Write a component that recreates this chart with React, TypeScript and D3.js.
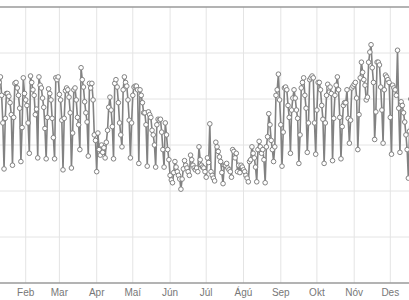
import React from "react";
import * as d3 from "d3";

// Daily values (one per day, starting 1 January), grouped by week
const week00 = [185, 215, 218, 210, 204, 175, 130];
const week01 = [180, 212, 218, 224, 204, 174, 124];
const week02 = [179, 206, 206, 203, 196, 183, 128];
const week03 = [180, 217, 218, 212, 204, 190, 132];
const week04 = [169, 223, 206, 199, 193, 174, 141];
const week05 = [225, 218, 210, 204, 183, 189, 136];
const week06 = [224, 215, 212, 201, 191, 168, 135];
const week07 = [180, 211, 206, 199, 179, 158, 135];
const week08 = [223, 221, 224, 205, 199, 177, 123];
const week09 = [179, 209, 212, 210, 202, 185, 125];
const week10 = [163, 210, 212, 199, 180, 172, 145];
const week11 = [234, 221, 213, 197, 185, 175, 138];
const week12 = [217, 212, 217, 199, 161, 155, 121];
const week13 = [163, 145, 139, 150, 142, 147, 136];
const week14 = [153, 166, 191, 202, 188, 170, 135];
const week15 = [217, 221, 213, 196, 174, 161, 148];
const week16 = [210, 224, 218, 214, 199, 177, 136];
const week17 = [174, 204, 213, 214, 214, 210, 130];
const week18 = [210, 204, 196, 185, 185, 172, 127];
const week19 = [186, 183, 180, 166, 161, 150, 126];
const week20 = [172, 178, 177, 178, 164, 145, 126];
const week21 = [174, 161, 145, 134, 117, 112, 109];
const week22 = [120, 132, 126, 121, 117, 113, 102];
const week23 = [113, 124, 133, 128, 125, 121, 117];
const week24 = [139, 134, 128, 125, 123, 125, 121];
const week25 = [148, 134, 128, 126, 125, 121, 115];
const week26 = [136, 131, 173, 121, 117, 114, 111];
const week27 = [153, 148, 143, 137, 132, 120, 108];
const week28 = [128, 128, 130, 125, 123, 121, 115];
const week29 = [145, 143, 136, 141, 121, 128, 120];
const week30 = [128, 126, 123, 121, 117, 114, 110];
const week31 = [132, 134, 148, 141, 136, 126, 110];
const week32 = [145, 154, 148, 141, 145, 134, 109];
const week33 = [148, 159, 184, 172, 155, 145, 132];
const week34 = [148, 204, 210, 227, 199, 172, 127];
const week35 = [164, 212, 213, 210, 193, 180, 141];
const week36 = [188, 201, 210, 201, 188, 179, 130];
const week37 = [161, 212, 218, 223, 204, 190, 142];
const week38 = [174, 221, 223, 225, 223, 174, 140];
const week39 = [188, 218, 218, 210, 193, 178, 130];
const week40 = [174, 204, 216, 212, 213, 206, 133];
const week41 = [179, 204, 215, 224, 210, 180, 135];
const week42 = [170, 193, 196, 196, 210, 179, 152];
const week43 = [177, 212, 214, 216, 218, 201, 145];
const week44 = [183, 223, 240, 229, 221, 215, 199];
const week45 = [202, 240, 251, 259, 234, 218, 156];
const week46 = [186, 240, 240, 237, 213, 188, 152];
const week47 = [210, 226, 224, 221, 218, 180, 140];
const week48 = [215, 212, 210, 204, 253, 190, 142];
const week49 = [197, 193, 185, 175, 161, 145, 114];
const week50 = [165, 200, 205, 198, 185, 160, 125];
const week51 = [150, 160, 120, 135, 150, 140, 110];
const lastDay = [130];

const monthLabels = ["Jan", "Feb", "Mar", "Apr", "Maí", "Jún", "Júl", "Ágú", "Sep", "Okt", "Nóv", "Des"];
const yTicks = [0, 50, 100, 150, 200, 250, 300];

const values: number[] = [
  ...week00, ...week01, ...week02, ...week03, ...week04, ...week05, ...week06,
  ...week07, ...week08, ...week09, ...week10, ...week11, ...week12, ...week13,
  ...week14, ...week15, ...week16, ...week17, ...week18, ...week19, ...week20,
  ...week21, ...week22, ...week23, ...week24, ...week25, ...week26, ...week27,
  ...week28, ...week29, ...week30, ...week31, ...week32, ...week33, ...week34,
  ...week35, ...week36, ...week37, ...week38, ...week39, ...week40, ...week41,
  ...week42, ...week43, ...week44, ...week45, ...week46, ...week47, ...week48,
  ...week49, ...week50, ...week51, ...lastDay,
];

const data = values.map((v, i) => ({ date: new Date(Date.UTC(2023, 0, 1 + i)), value: v }));

const W = 409;
const H = 300;
const TOP = 7;
const BOTTOM = 283;

export default function App() {
  const x = d3
    .scaleUtc()
    .domain([new Date(Date.UTC(2023, 0, 1)), new Date(Date.UTC(2023, 11, 31))])
    .range([-11.6, -11.6 + 364 * 1.2033]);
  const y = d3.scaleLinear().domain([0, 300]).range([BOTTOM, TOP]);
  const line = d3
    .line<{ date: Date; value: number }>()
    .x((d) => x(d.date))
    .y((d) => y(d.value));
  const months = monthLabels.map((m, i) => ({ label: m, date: new Date(Date.UTC(2023, i, 1)) }));
  const visibleMonths = months.filter((m) => x(m.date) > 10 && x(m.date) < W - 10);

  return (
    <svg
      width={W}
      height={H}
      style={{ position: "absolute", left: 0, top: 0, display: "block", background: "#fff" }}
    >
      <g>
        {yTicks.slice(1, -1).map((t) => (
          <line key={t} x1={0} x2={W} y1={y(t)} y2={y(t)} stroke="#e4e4e4" strokeWidth={1} />
        ))}
        {months.map((m) => (
          <line
            key={m.label}
            x1={x(m.date)}
            x2={x(m.date)}
            y1={TOP}
            y2={BOTTOM}
            stroke="#e4e4e4"
            strokeWidth={1}
          />
        ))}
      </g>
      <line x1={0} x2={W} y1={y(300)} y2={y(300)} stroke="#9a9a9a" strokeWidth={1.5} />
      <line x1={0} x2={W} y1={y(0)} y2={y(0)} stroke="#9a9a9a" strokeWidth={1.5} />
      <path d={line(data) || ""} fill="none" stroke="#828282" strokeWidth={1.6} />
      <g>
        {data.map((d, i) => (
          <circle
            key={i}
            cx={x(d.date)}
            cy={y(d.value)}
            r={2.3}
            fill="#fff"
            stroke="#828282"
            strokeWidth={1}
          />
        ))}
      </g>
      <g fontFamily="'Liberation Sans', Arial, sans-serif" fontSize={10} fill="#777">
        {visibleMonths.map((m) => (
          <text key={m.label} x={x(m.date)} y={296} textAnchor="middle">
            {m.label}
          </text>
        ))}
      </g>
    </svg>
  );
}
